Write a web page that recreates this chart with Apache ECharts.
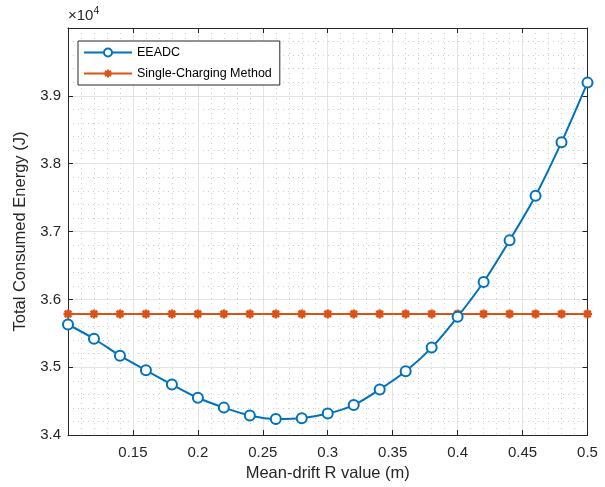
<!DOCTYPE html>
<html><head><meta charset="utf-8">
<script src="https://cdn.jsdelivr.net/npm/echarts@6/dist/echarts.min.js"></script>
<style>html,body{margin:0;padding:0;background:#fff}#c{width:605px;height:487px}</style>
</head><body><div id="c"></div>
<script>
const rValues = [0.10,0.12,0.14,0.16,0.18,0.20,0.22,0.24,0.26,0.28,0.30,0.32,0.34,0.36,0.38,0.40,0.42,0.44,0.46,0.48,0.50];
const eeadc = [35630,35420,35170,34955,34746,34550,34405,34290,34238,34249,34317,34443,34673,34940,35290,35744,36256,36870,37528,38317,39195];
const singleCharging = [35785,35785,35785,35785,35785,35785,35785,35785,35785,35785,35785,35785,35785,35785,35785,35785,35785,35785,35785,35785,35785];
const seriesNames = ['EEADC','Single-Charging Method'];
const xTitle = 'Mean-drift R value (m)';
const yTitle = 'Total Consumed Energy (J)';

const FONT = '"Liberation Sans", Arial, Helvetica, sans-serif';
const TXT = '#262626';
const chart = echarts.init(document.getElementById('c'), null, {renderer:'canvas'});
const asterisk = 'path://M0,-5L0,5M-5,0L5,0M-3.6,-3.6L3.6,3.6M-3.6,3.6L3.6,-3.6';

const gridLine = {show:true, lineStyle:{color:'#e3e3e3', width:1}};
const minorLine = {show:true, lineStyle:{color:'#cdcdcd', width:1, type:[1,4]}};

chart.setOption({
  animation:false,
  textStyle:{fontFamily:FONT},
  grid:{left:68, right:17.5, top:28, bottom:50, containLabel:false},
  legend:{
    orient:'vertical', left:78, top:41, data:seriesNames,
    backgroundColor:'#fff', borderColor:TXT, borderWidth:1, padding:[5,8,5,5],
    itemWidth:48, itemHeight:10, itemGap:8,
    textStyle:{color:'#000', fontSize:12.5, fontFamily:FONT}
  },
  xAxis:[{
    type:'value', min:0.1, max:0.5, interval:0.05,
    name:xTitle, nameLocation:'middle', nameGap:22,
    nameTextStyle:{color:TXT, fontSize:16.5, fontFamily:FONT},
    axisLine:{show:true, onZero:false, lineStyle:{color:TXT}},
    axisTick:{show:true, inside:true, length:5, lineStyle:{color:TXT}},
    axisLabel:{color:TXT, fontSize:15, margin:10, formatter:v=>Math.abs(v-0.1)<1e-9?'':String(+v.toFixed(2))},
    splitLine:gridLine,
    minorTick:{show:false, splitNumber:5},
    minorSplitLine:minorLine
  },{
    type:'value', position:'top', min:0.1, max:0.5, interval:0.05,
    axisLine:{show:true, onZero:false, lineStyle:{color:TXT}},
    axisTick:{show:true, inside:true, length:5, lineStyle:{color:TXT}},
    axisLabel:{show:false}, splitLine:{show:false}
  }],
  yAxis:[{
    type:'value', min:34000, max:40000, interval:1000,
    name:yTitle, nameLocation:'middle', nameGap:35, nameRotate:90,
    nameTextStyle:{color:TXT, fontSize:16.5, fontFamily:FONT},
    axisLine:{show:true, onZero:false, lineStyle:{color:TXT}},
    axisTick:{show:true, inside:true, length:5, lineStyle:{color:TXT}},
    axisLabel:{color:TXT, fontSize:15, margin:7, formatter:v=>v>=40000?'':(v/10000).toFixed(1)},
    splitLine:gridLine,
    minorTick:{show:false, splitNumber:5},
    minorSplitLine:minorLine
  },{
    type:'value', position:'right', min:34000, max:40000, interval:1000,
    axisLine:{show:true, onZero:false, lineStyle:{color:TXT}},
    axisTick:{show:true, inside:true, length:5, lineStyle:{color:TXT}},
    axisLabel:{show:false}, splitLine:{show:false}
  }],
  graphic:[{
    type:'text', left:68, top:6,
    style:{text:'{a|×10}{b|4}', fill:TXT, fontFamily:FONT,
      rich:{a:{fontSize:15, fill:TXT, fontFamily:FONT}, b:{fontSize:10.5, fill:TXT, fontFamily:FONT, verticalAlign:'top', padding:[0,0,9,0]}}}
  }],
  series:[{
    name:seriesNames[0], type:'line', data:rValues.map((x,i)=>[x,eeadc[i]]),
    smooth:0.3, symbol:'circle', symbolSize:10, showSymbol:true,
    lineStyle:{color:'#0072BD', width:2},
    itemStyle:{color:'#fff', borderColor:'#0072BD', borderWidth:2},
    color:'#0072BD', z:3
  },{
    name:seriesNames[1], type:'line', data:rValues.map((x,i)=>[x,singleCharging[i]]),
    symbol:asterisk, symbolSize:9, symbolKeepAspect:true,
    lineStyle:{color:'#D95319', width:2},
    itemStyle:{color:'#D95319', borderColor:'#D95319', borderWidth:2.5},
    color:'#D95319', z:2
  }]
});
</script></body></html>
